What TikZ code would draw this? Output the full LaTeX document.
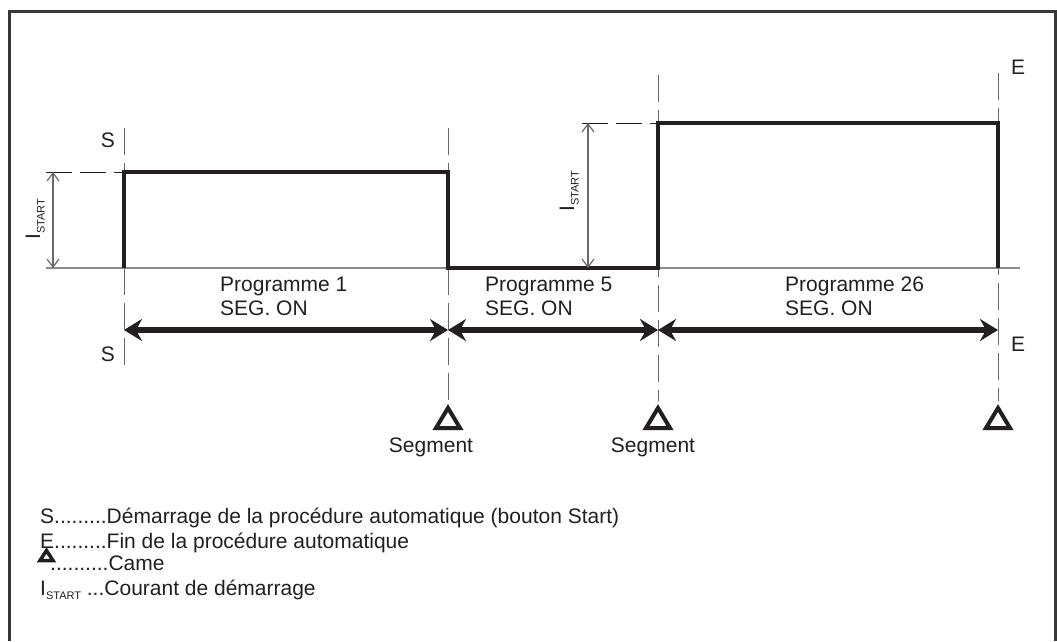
\documentclass[tikz,border=0pt]{standalone}
\usepackage{fontspec}
\setmainfont{Liberation Sans}
\usetikzlibrary{arrows.meta}
\definecolor{ink}{RGB}{35,31,32}
\definecolor{guide}{RGB}{105,105,105}
\definecolor{axisgray}{RGB}{140,140,140}
\definecolor{framegray}{RGB}{55,55,55}
\newcommand{\istartlbl}{I\raisebox{-4.5pt}{\fontsize{11}{11}\selectfont START}}
\begin{document}
\begin{tikzpicture}[x=1pt,y=-1pt,
  txt/.style={font=\fontsize{21}{24}\selectfont, text=ink, inner sep=0pt},
  guideline/.style={draw=guide, line width=1pt, dash pattern=on 27pt off 8pt},
  refdash/.style={draw=ink, line width=1pt, dash pattern=on 26pt off 8pt},
  pulse/.style={draw=ink, line width=3.5pt, line join=miter},
  spanarrow/.style={draw=ink, line width=5.5pt, {Stealth[length=18pt,width=22pt,inset=6pt]}-{Stealth[length=18pt,width=22pt,inset=6pt]}},
  dimarrow/.style={draw=guide, line width=1.2pt, {Straight Barb[length=8pt,width=12pt]}-{Straight Barb[length=8pt,width=12pt]}},
  cam/.style={draw=ink, line width=4pt, line join=miter},
]
\useasboundingbox (0,0) rectangle (1057,641);
% frame
\draw[framegray, line width=3pt] (9.5,641) -- (9.5,11.5) -- (1055.5,11.5) -- (1055.5,641);

% key coordinates
\coordinate (x0) at (46,268);
\coordinate (x1) at (1020,268);
\coordinate (a0) at (124,268);
\coordinate (a1) at (124,172);
\coordinate (b1) at (448,172);
\coordinate (b0) at (448,268);
\coordinate (c0) at (658,268);
\coordinate (c1) at (658,123);
\coordinate (d1) at (998,123);
\coordinate (d0) at (998,268);

% vertical guide lines
\coordinate (ga-t) at (124,128); \coordinate (ga-b) at (124,366);
\coordinate (gb-t) at (448,128); \coordinate (gb-b) at (448,401);
\coordinate (gc-t) at (658,75);  \coordinate (gc-b) at (658,401);
\coordinate (gd-t) at (998,73);  \coordinate (gd-b) at (998,401);
\draw[guideline] (ga-t) -- (ga-b);
\draw[guideline] (gb-t) -- (gb-b);
\draw[guideline] (gc-t) -- (gc-b);
\draw[guideline] (gd-t) -- (gd-b);

% baseline
\draw[axisgray, line width=1.5pt] (x0) -- (x1);

% reference level dashes
\coordinate (h1) at (46,172);
\coordinate (h2) at (582,123);
\draw[refdash] (h1) -- (a1);
\draw[refdash] (h2) -- (c1);

% current pulses
\draw[pulse] (a0) -- (a1) -- (b1) -- (b0) -- (c0) -- (c1) -- (d1) -- (d0);

% I_START dimension arrows
\coordinate (i1t) at (53,172); \coordinate (i1b) at (53,268);
\coordinate (i2t) at (588,123); \coordinate (i2b) at (588,268);
\draw[dimarrow] (i1t) -- (i1b);
\draw[dimarrow] (i2t) -- (i2b);
\node[txt, rotate=90, anchor=base] (is1) at (40,219) {\istartlbl};
\node[txt, rotate=90, anchor=base] (is2) at (574,191) {\istartlbl};

% S / E labels
\node[txt, anchor=base] (s1) at (108,147) {S};
\node[txt, anchor=base] (s2) at (108,361) {S};
\node[txt, anchor=base] (e1) at (1018,74) {E};
\node[txt, anchor=base] (e2) at (1018,351) {E};

% programme labels
\node[txt, anchor=base west] (p1) at (220,291) {Programme 1};
\node[txt, anchor=base west] (p1s) at (220,315) {SEG. ON};
\node[txt, anchor=base west] (p5) at (485,291) {Programme 5};
\node[txt, anchor=base west] (p5s) at (485,315) {SEG. ON};
\node[txt, anchor=base west] (p26) at (785,291) {Programme 26};
\node[txt, anchor=base west] (p26s) at (785,315) {SEG. ON};

% segment span arrows
\coordinate (sa) at (124,330);
\coordinate (sb) at (448,330);
\coordinate (sc) at (658,330);
\coordinate (sd) at (998,330);
\draw[spanarrow] (sa) -- (sb);
\draw[spanarrow] (sb) -- (sc);
\draw[spanarrow] (sc) -- (sd);

% cams
\draw[cam] (436,428) -- (448,408) -- (460,428) -- cycle;
\draw[cam] (646,428) -- (658,408) -- (670,428) -- cycle;
\draw[cam] (986,428) -- (998,408) -- (1010,428) -- cycle;
\node[txt, anchor=base] (seg1) at (431,452) {Segment};
\node[txt, anchor=base] (seg2) at (653,452) {Segment};

% legend
\node[txt, anchor=base west] (l1) at (40,523) {S.........Démarrage de la procédure automatique (bouton Start)};
\node[txt, anchor=base west] (l2) at (40,548) {E.........Fin de la procédure automatique};
\node[txt, anchor=base west] (l3) at (50,570) {..........Came};
\node[txt, anchor=base west] (l4) at (40,595) {\istartlbl\ ...Courant de démarrage};
\draw[draw=ink, line width=3.5pt, line join=miter] (40,560.5) -- (46.5,550.5) -- (53,560.5) -- cycle;
\end{tikzpicture}
\end{document}
